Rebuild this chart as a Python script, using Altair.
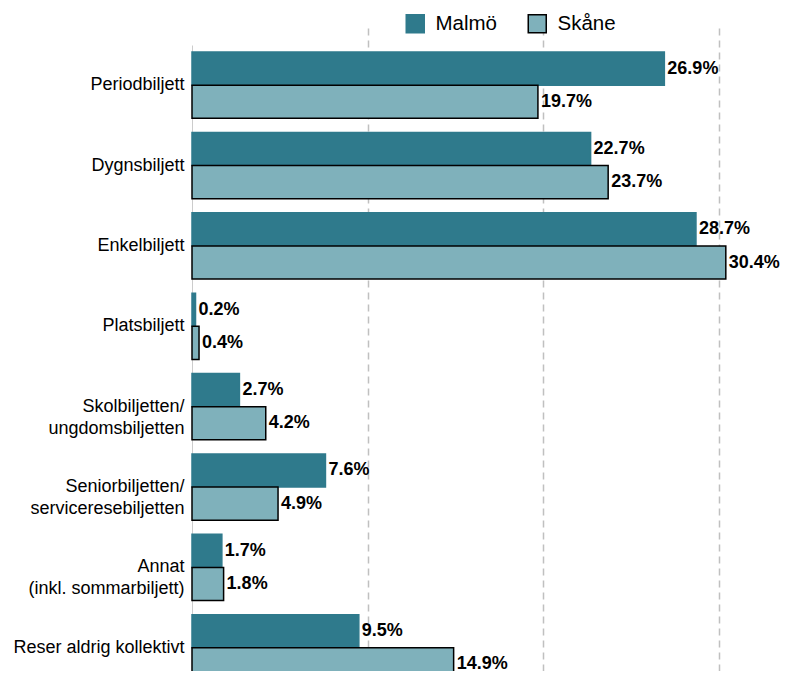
import altair as alt
import pandas as pd

categories = ["Periodbiljett", "Dygnsbiljett", "Enkelbiljett", "Platsbiljett",
              "Skolbiljetten/|ungdomsbiljetten", "Seniorbiljetten/|serviceresebiljetten",
              "Annat|(inkl. sommarbiljett)", "Reser aldrig kollektivt"]
series = ["Malmö", "Skåne"]
malmo = [26.9, 22.7, 28.7, 0.2, 2.7, 7.6, 1.7, 9.5]
skane = [19.7, 23.7, 30.4, 0.4, 4.2, 4.9, 1.8, 14.9]
colors = ["#2f7a8c", "#7fb1bb"]
strokes = ["#2f7a8c", "#000000"]

rows = []
for c, m, s in zip(categories, malmo, skane):
    rows.append({"cat": c, "serie": "Malmö", "val": m})
    rows.append({"cat": c, "serie": "Skåne", "val": s})
df = pd.DataFrame(rows)

FONT = "Liberation Sans"

y_enc = alt.Y("cat:N", sort=categories, title=None,
              scale=alt.Scale(paddingInner=0.175, paddingOuter=0.0875, range=[0, 643]),
              axis=alt.Axis(labelExpr="split(datum.label, '|')", labelFontSize=18,
                            labelColor="#000000", labelFont=FONT, ticks=False,
                            domainColor="#cccccc", labelPadding=8, labelLineHeight=22))
yoff = alt.YOffset("serie:N", sort=series, scale=alt.Scale(paddingInner=0, paddingOuter=0))
x_enc = alt.X("val:Q", title=None,
              scale=alt.Scale(domain=[0, 33.6], nice=False, zero=True),
              axis=alt.Axis(values=[10, 20, 30], labels=False, ticks=False, domain=False,
                            grid=True, gridDash=[7, 5], gridColor="#c0c0c0", gridWidth=1.5))

bars = alt.Chart(df).mark_bar(strokeWidth=1.5).encode(
    x=x_enc,
    y=y_enc,
    yOffset=yoff,
    fill=alt.Fill("serie:N", sort=series, title=None,
                  scale=alt.Scale(domain=series, range=colors),
                  legend=alt.Legend(orient="none", legendX=213, legendY=-32,
                                    direction="horizontal", labelFontSize=20.5,
                                    labelFont=FONT, labelColor="#000000",
                                    symbolType="square", symbolSize=324,
                                    symbolStrokeWidth=1.5, columnPadding=27,
                                    labelOffset=10, symbolOpacity=1)),
    stroke=alt.Stroke("serie:N", sort=series, title=None,
                      scale=alt.Scale(domain=series, range=strokes)),
)

labels = alt.Chart(df).transform_calculate(
    lab="format(datum.val, '.1f') + '%'"
).mark_text(align="left", baseline="middle", dx=3, fontSize=18, fontWeight="bold",
            font=FONT, color="#000000").encode(
    x=alt.X("val:Q"),
    y=alt.Y("cat:N", sort=categories),
    yOffset=alt.YOffset("serie:N", sort=series),
    text="lab:N",
)

chart = alt.layer(bars, labels).properties(
    width=590, height=626,
    autosize=alt.AutoSizeParams(type="none"),
    padding={"left": 184, "top": 37, "right": 0, "bottom": 0},
).configure_view(stroke=None)

chart.save("out.html", embed_options={"renderer": "svg", "actions": False})
